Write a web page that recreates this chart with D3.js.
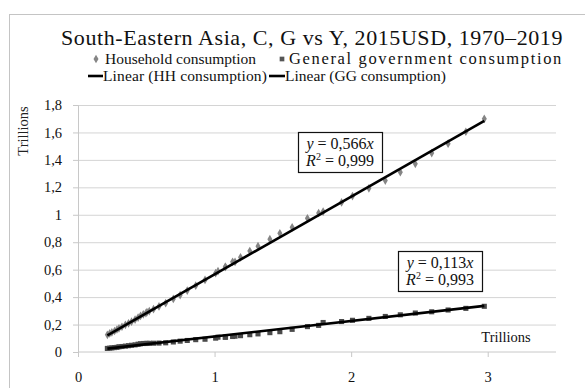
<!DOCTYPE html>
<html><head><meta charset="utf-8">
<script src="https://cdn.jsdelivr.net/npm/d3@7/dist/d3.min.js"></script>
<style>
body{margin:0;background:#fff}
</style>
</head><body>
<svg id="c" width="585" height="388" style="font-family:'Liberation Serif',serif"></svg>
<script>
// GDP (Y), trillions 2015 USD, 1970–2019
const gdp = [0.215,0.232,0.248,0.268,0.285,0.300,0.322,0.347,0.370,0.392,
             0.418,0.440,0.458,0.478,0.497,0.505,0.522,0.553,0.593,0.642,
             0.698,0.748,0.800,0.862,0.930,1.008,1.080,1.132,1.025,1.078,
             1.150,1.190,1.258,1.318,1.405,1.478,1.568,1.680,1.762,1.795,
             1.930,2.010,2.130,2.250,2.360,2.470,2.590,2.710,2.840,2.975];
// Household consumption (C)
const household = [0.125,0.135,0.143,0.153,0.164,0.173,0.184,0.198,0.209,0.221,
                   0.236,0.251,0.263,0.275,0.283,0.290,0.298,0.312,0.332,0.356,
                   0.387,0.415,0.448,0.483,0.525,0.575,0.621,0.657,0.589,0.620,
                   0.656,0.690,0.736,0.771,0.822,0.865,0.909,0.974,1.013,1.023,
                   1.090,1.136,1.193,1.249,1.310,1.371,1.450,1.518,1.605,1.699];
// General government consumption (G)
const government = [0.026,0.028,0.030,0.032,0.034,0.038,0.040,0.043,0.046,0.049,
                    0.052,0.057,0.060,0.062,0.062,0.063,0.063,0.064,0.065,0.067,
                    0.073,0.079,0.084,0.090,0.093,0.101,0.108,0.113,0.108,0.108,
                    0.115,0.119,0.126,0.132,0.141,0.148,0.165,0.185,0.194,0.215,
                    0.222,0.231,0.245,0.259,0.271,0.284,0.293,0.306,0.318,0.333];
const hhSlope = 0.566, hhR2 = "0,999";
const ggSlope = 0.113, ggR2 = "0,993";
const xTicks = [0, 1, 2, 3];
const xTickLabels = ["0", "1", "2", "3"];
const yTicks = [0, 0.2, 0.4, 0.6, 0.8, 1, 1.2, 1.4, 1.6, 1.8];
const yTickLabels = ["0", "0,2", "0,4", "0,6", "0,8", "1", "1,2", "1,4", "1,6", "1,8"];
const title = "South-Eastern Asia, C, G vs Y, 2015USD, 1970–2019";
const legendNames = ["Household consumption", "General government consumption",
                     "Linear (HH consumption)", "Linear (GG consumption)"];

const FONT = "'Liberation Serif','Times New Roman',serif";
const svg = d3.select("#c");
const L = 78, R = 556, T = 105, B = 352;
const x = d3.scaleLinear().domain([0, 3.5]).range([L, R]);
const y = d3.scaleLinear().domain([0, 1.8]).range([B, T]);

// outer chart border
svg.append("rect").attr("x", 9.5).attr("y", 14.5).attr("width", 620).attr("height", 420)
  .attr("fill", "none").attr("stroke", "#c4c4c4");

// gridlines
const grid = svg.append("g").attr("transform", `translate(${L},0)`)
  .call(d3.axisLeft(y).tickValues(yTicks.filter(d => d > 0)).tickSize(-(R - L)).tickFormat(""));
grid.select(".domain").remove();
grid.selectAll("line").attr("stroke", "#d4d4d4");

// y axis
const ya = svg.append("g").attr("transform", `translate(${L},0)`)
  .call(d3.axisLeft(y).tickValues(yTicks).tickSize(5).tickPadding(11)
    .tickFormat((d, i) => yTickLabels[i]));
ya.attr("font-family", null);
ya.select(".domain").attr("stroke", "#c8c8c8");
ya.selectAll("line").attr("stroke", "#c8c8c8");
ya.selectAll("text").attr("font-size", 14.5).attr("fill", "#111").style("font-family", FONT);

// x axis
const xa = svg.append("g").attr("transform", `translate(0,${B})`)
  .call(d3.axisBottom(x).tickValues(xTicks).tickSize(5).tickPadding(15)
    .tickFormat((d, i) => xTickLabels[i]));
xa.attr("font-family", null);
xa.select(".domain").attr("stroke", "#c8c8c8").attr("d", `M${L},0H${R}`);
xa.selectAll("line").attr("stroke", "#c8c8c8");
xa.selectAll("text").attr("font-size", 14.5).attr("fill", "#111").style("font-family", FONT);

// markers
const diamond = d3.symbol().type(d3.symbolDiamond).size(22);
const square = d3.symbol().type(d3.symbolSquare).size(26);
svg.append("g").selectAll("path").data(gdp).join("path")
  .attr("d", diamond).attr("fill", "#858585")
  .attr("transform", (d, i) => `translate(${x(d)},${y(household[i])})`);
svg.append("g").selectAll("path").data(gdp).join("path")
  .attr("d", square).attr("fill", "#4a4a4a")
  .attr("transform", (d, i) => `translate(${x(d)},${y(government[i])})`);

// trendlines
const xMin = d3.min(gdp), xMax = d3.max(gdp);
[hhSlope, ggSlope].forEach(s => {
  svg.append("line")
    .attr("x1", x(xMin)).attr("y1", y(s * xMin))
    .attr("x2", x(xMax)).attr("y2", y(s * xMax))
    .attr("stroke", "#000").attr("stroke-width", 2.6);
});

function txt(sel) { return sel.style("font-family", FONT).attr("fill", "#111"); }
// widen text to a target width by letter spacing
function fit(sel, width) {
  const w = sel.node().getComputedTextLength();
  const n = sel.text().length;
  if (w < width) sel.style("letter-spacing", ((width - w) / n) + "px");
  return sel;
}

// equation boxes
function eqBox(bx, by, slope, r2) {
  const g = svg.append("g");
  g.append("rect").attr("x", bx + 0.5).attr("y", by + 0.5).attr("width", 84).attr("height", 40)
    .attr("fill", "#fff").attr("stroke", "#111").attr("stroke-width", 1.2);
  const t1 = txt(g.append("text")).attr("x", bx + 42).attr("y", by + 17).attr("text-anchor", "middle")
    .attr("font-size", 16);
  t1.append("tspan").attr("font-style", "italic").text("y");
  t1.append("tspan").text(" = " + String(slope).replace(".", ","));
  t1.append("tspan").attr("font-style", "italic").text("x");
  const t2 = txt(g.append("text")).attr("x", bx + 42).attr("y", by + 34).attr("text-anchor", "middle")
    .attr("font-size", 16);
  t2.append("tspan").attr("font-style", "italic").text("R");
  t2.append("tspan").attr("font-size", 10).attr("dy", -6).text("2");
  t2.append("tspan").attr("dy", 6).text(" = " + r2);
}
eqBox(298, 132, hhSlope, hhR2);
eqBox(398, 251, ggSlope, ggR2);

// title
fit(txt(svg.append("text")).attr("x", 61).attr("y", 45)
  .attr("font-size", 22).text(title), 502);

// legend
const lg = svg.append("g");
lg.append("path").attr("d", d3.symbol().type(d3.symbolDiamond).size(22)())
  .attr("transform", "translate(96,59)").attr("fill", "#858585");
fit(txt(lg.append("text")).attr("x", 105).attr("y", 64).attr("font-size", 15.5).text(legendNames[0]), 146);
lg.append("path").attr("d", d3.symbol().type(d3.symbolSquare).size(22)())
  .attr("transform", "translate(282,59)").attr("fill", "#555");
fit(txt(lg.append("text")).attr("x", 289).attr("y", 64).attr("font-size", 16.5).text(legendNames[1]), 274);
lg.append("line").attr("x1", 88).attr("x2", 103).attr("y1", 76).attr("y2", 76)
  .attr("stroke", "#000").attr("stroke-width", 2.6);
fit(txt(lg.append("text")).attr("x", 103).attr("y", 81).attr("font-size", 15.5).text(legendNames[2]), 164);
lg.append("line").attr("x1", 269).attr("x2", 285).attr("y1", 76).attr("y2", 76)
  .attr("stroke", "#000").attr("stroke-width", 2.6);
fit(txt(lg.append("text")).attr("x", 285).attr("y", 81).attr("font-size", 15.5).text(legendNames[3]), 158);

// axis titles
txt(svg.append("text")).attr("transform", "translate(28,131) rotate(-90)").attr("text-anchor", "middle")
  .attr("font-size", 14.5).attr("fill", "#222").text("Trillions");
txt(svg.append("text")).attr("x", 506).attr("y", 342).attr("text-anchor", "middle")
  .attr("font-size", 14.5).text("Trillions");
</script>
</body></html>
